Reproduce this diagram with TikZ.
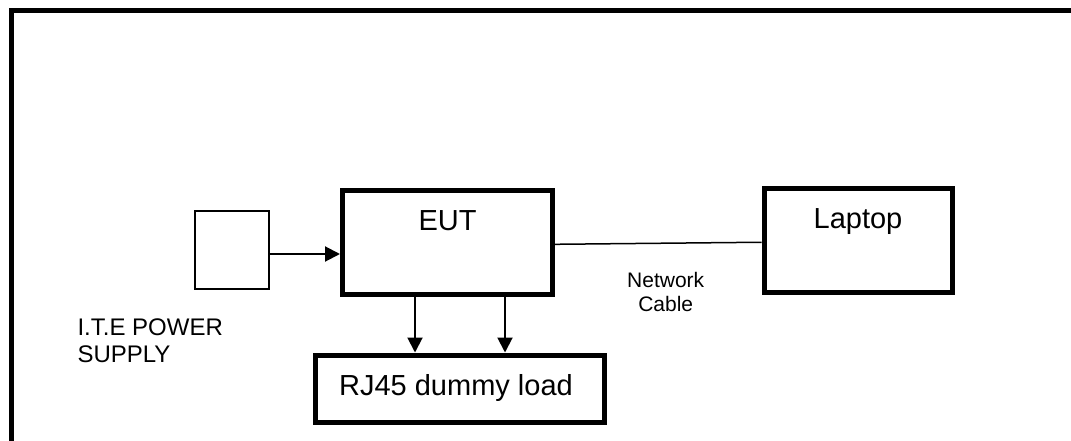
\documentclass[tikz,border=0pt]{standalone}
\usepackage{fontspec}
\setmainfont{Liberation Sans}
\usetikzlibrary{arrows.meta}
\begin{document}
\begin{tikzpicture}[x=1pt,y=-1pt,
  thickbox/.style={draw,line width=5pt,rectangle,inner sep=0pt},
  thinbox/.style={draw,line width=1.5pt,rectangle,inner sep=0pt},
  arr/.style={line width=2pt,-{Triangle[length=15pt,width=15pt]}},
  wire/.style={line width=1.5pt},
  bigtxt/.style={font=\fontsize{29}{34}\selectfont,inner sep=0pt,anchor=base},
  midtxt/.style={font=\fontsize{24}{27.7}\selectfont,inner sep=0pt,anchor=base west},
  smalltxt/.style={font=\fontsize{21}{24.4}\selectfont,inner sep=0pt,anchor=base}]
\useasboundingbox (0,0) rectangle (1071,441);
% outer frame (cropped)
\draw[line width=5pt] (11,450) -- (11,10.5) -- (1080,10.5);
% boxes
\node[thinbox,minimum width=74pt,minimum height=78pt] (ite) at (232,250) {};
\node[thickbox,minimum width=210pt,minimum height=104pt] (eut) at (447.5,242) {};
\node[thickbox,minimum width=188pt,minimum height=104.5pt] (lap) at (858,240.25) {};
\node[thickbox,minimum width=289.3pt,minimum height=67.5pt] (rj) at (460.3,388.75) {};
% texts
\node[bigtxt] (eutt) at (447.5,230) {EUT};
\node[bigtxt] (lapt) at (858,228.3) {Laptop};
\node[bigtxt] (rjt) at (456,395) {RJ45 dummy load};
\node[smalltxt] (net1) at (665.7,287.3) {Network};
\node[smalltxt] (net2) at (665.7,311.7) {Cable};
\node[midtxt] (ite1) at (77.3,335) {I.T.E POWER};
\node[midtxt] (ite2) at (77.3,362.7) {SUPPLY};
% connectors
\coordinate (xa) at (415,0);
\coordinate (xb) at (505,0);
\draw[arr] ([yshift=-4pt]ite.east) -- ([yshift=-4pt]ite.east -| eut.west);
\draw[arr] (eut.south -| xa) -- (rj.north -| xa);
\draw[arr] (eut.south -| xb) -- (rj.north -| xb);
\draw[wire] ([yshift=-2.3pt]eut.east) -- ([yshift=-2pt]lap.west);
\end{tikzpicture}
\end{document}
